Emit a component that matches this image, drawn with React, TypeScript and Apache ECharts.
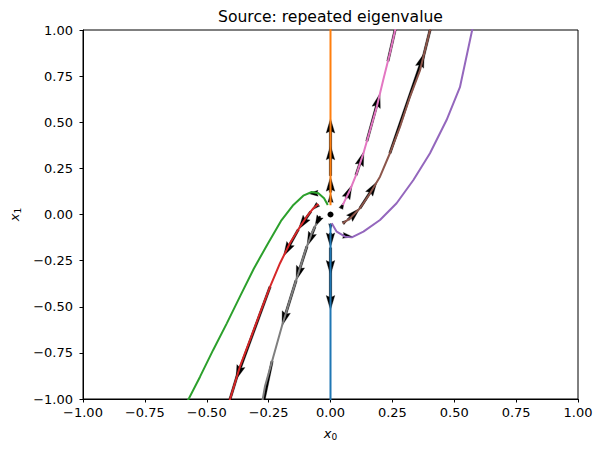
import React, { useEffect, useRef } from 'react';
import * as echarts from 'echarts';

// Trajectories [x0, x1]
const blueCurve: number[][] = [[0, -0.05], [0, -0.3], [0, -0.7], [0, -1.05]];
const orangeCurve: number[][] = [[0, 0.05], [0, 0.3], [0, 0.7], [0, 1.05]];
const greenCurve: number[][] = [
  [-0.011, 0.051], [-0.026, 0.088], [-0.049, 0.115], [-0.076, 0.122], [-0.11, 0.102],
  [-0.15, 0.052], [-0.2, -0.035], [-0.255, -0.162], [-0.31, -0.294], [-0.364, -0.44],
  [-0.419, -0.59], [-0.474, -0.734], [-0.527, -0.879], [-0.577, -1.01],
];
const redCurve: number[][] = [
  [-0.049, 0.057], [-0.069, 0.034], [-0.096, -0.012], [-0.123, -0.066], [-0.164, -0.156],
  [-0.204, -0.264], [-0.244, -0.391], [-0.285, -0.535], [-0.325, -0.68], [-0.366, -0.825],
  [-0.408, -1.01],
];
const purpleCurve: number[][] = [
  [0.005, -0.048], [0.025, -0.093], [0.059, -0.12], [0.086, -0.124], [0.133, -0.093],
  [0.2, -0.03], [0.267, 0.061], [0.335, 0.187], [0.402, 0.332], [0.469, 0.512],
  [0.523, 0.69], [0.574, 1.01],
];
const brownCurve: number[][] = [
  [0.049, -0.048], [0.079, -0.021], [0.119, 0.034], [0.16, 0.115], [0.2, 0.205],
  [0.24, 0.332], [0.281, 0.476], [0.321, 0.638], [0.362, 0.783], [0.404, 1.01],
];
const pinkCurve: number[][] = [
  [0.049, 0.051], [0.079, 0.133], [0.106, 0.223], [0.133, 0.332], [0.16, 0.458],
  [0.187, 0.584], [0.213, 0.729], [0.24, 0.874], [0.263, 1.01],
];
const grayCurve: number[][] = [
  [-0.056, -0.048], [-0.076, -0.102], [-0.103, -0.202], [-0.13, -0.319], [-0.164, -0.463],
  [-0.197, -0.608], [-0.231, -0.771], [-0.265, -0.933], [-0.275, -1.01],
];

// Quiver arrows along each trajectory: [tail, tip] read as x0 (or x1 for the vertical ones)
const orangeArrowsY: number[][] = [[0.065, 0.115], [0.12, 0.205], [0.21, 0.375], [0.3, 0.52]];
const blueArrowsY: number[][] = [[-0.05, -0.084], [-0.1, -0.178], [-0.18, -0.328], [-0.3, -0.518]];
const redArrowsX: number[][] = [[-0.05, -0.075], [-0.08, -0.13], [-0.13, -0.19], [-0.244, -0.382], [-0.37, -0.45]];
const brownArrowsX: number[][] = [[0.05, 0.07], [0.071, 0.119], [0.119, 0.188], [0.24, 0.379], [0.37, 0.45]];
const pinkArrowsX: number[][] = [[0.042, 0.055], [0.063, 0.087], [0.103, 0.135], [0.147, 0.2], [0.232, 0.29]];
const grayArrowsX: number[][] = [[-0.042, -0.063], [-0.063, -0.095], [-0.095, -0.139], [-0.139, -0.196], [-0.236, -0.3]];
const greenArrowsX: number[][] = [[-0.05, -0.09]];
const purpleArrowsX: number[][] = [[0.05, 0.09]];

const fmt = (v: number) => (v < 0 ? '\u2212' + Math.abs(v).toFixed(2) : v.toFixed(2));

const FONT = 'DejaVu Sans';

// y on a traced trajectory at a given x0 (linear between traced points)
function yAt(curve: number[][], x: number): number {
  const asc = curve[curve.length - 1][0] > curve[0][0];
  const pts = asc ? curve : [...curve].reverse();
  let i = 0;
  while (i < pts.length - 2 && x > pts[i + 1][0]) i++;
  const [x0, y0] = pts[i];
  const [x1, y1] = pts[i + 1];
  return y0 + ((x - x0) / (x1 - x0)) * (y1 - y0);
}

function arrowsOnCurve(curve: number[][], pairs: number[][]): number[][] {
  return pairs.map(([a, b]) => {
    const ya = yAt(curve, a);
    const yb = yAt(curve, b);
    return [a, ya, b - a, yb - ya];
  });
}

function arrowsVertical(pairs: number[][]): number[][] {
  return pairs.map(([a, b]) => [0, a, 0, b - a]);
}

export default function App() {
  const ref = useRef<HTMLDivElement>(null);
  useEffect(() => {
    if (!ref.current) return;
    const chart = echarts.init(ref.current, null, { renderer: 'svg' });
    const lineSeries = (data: number[][], color: string) => ({
      type: 'line',
      data,
      showSymbol: false,
      symbol: 'none',
      lineStyle: { color, width: 2 },
      clip: true,
      z: 3,
      silent: true,
    });
    const allArrows = [
      ...arrowsVertical(orangeArrowsY),
      ...arrowsVertical(blueArrowsY),
      ...arrowsOnCurve(redCurve, redArrowsX),
      ...arrowsOnCurve(brownCurve, brownArrowsX),
      ...arrowsOnCurve(pinkCurve, pinkArrowsX),
      ...arrowsOnCurve(grayCurve, grayArrowsX),
      ...arrowsOnCurve(greenCurve, greenArrowsX),
      ...arrowsOnCurve(purpleCurve, purpleArrowsX),
    ];
    const axisCommon = {
      type: 'value',
      min: -1,
      max: 1,
      interval: 0.25,
      axisLine: { show: true, onZero: false, lineStyle: { color: '#000', width: 1 } },
      axisTick: { show: true, inside: false, length: 3.5, lineStyle: { color: '#000', width: 1 } },
      splitLine: { show: false },
      axisLabel: { formatter: fmt, color: '#000', fontFamily: FONT, fontSize: 13 },
    };
    const rich = {
      i: { fontFamily: FONT, fontStyle: 'italic', fontSize: 13, color: '#000' },
      s: { fontFamily: FONT, fontSize: 9, color: '#000', padding: [6, 0, 0, 0] },
    };
    chart.setOption({
      animation: false,
      grid: { left: 83, right: 25, top: 30, bottom: 54, show: true, borderColor: '#000', borderWidth: 1 },
      graphic: [
        {
          type: 'text',
          x: 330.5,
          y: 17,
          style: {
            text: 'Source: repeated eigenvalue',
            fontFamily: FONT,
            fontSize: 15.6,
            fill: '#000',
            textAlign: 'center',
            textVerticalAlign: 'middle',
          },
        },
      ],
      xAxis: {
        ...axisCommon,
        axisLabel: { ...axisCommon.axisLabel, margin: 7 },
        name: '{i|x}{s|0}',
        nameLocation: 'middle',
        nameGap: 27,
        nameTextStyle: { rich },
      },
      yAxis: {
        ...axisCommon,
        axisLabel: { ...axisCommon.axisLabel, margin: 10 },
        name: '{i|x}{s|1}',
        nameLocation: 'middle',
        nameGap: 55,
        nameRotate: 90,
        nameTextStyle: { rich },
      },
      series: [
        {
          type: 'custom',
          clip: true,
          z: 2,
          silent: true,
          data: allArrows,
          renderItem: (params: any, api: any) => {
            const x = api.value(0), y = api.value(1), u = api.value(2), v = api.value(3);
            const p0 = api.coord([x, y]);
            const p1 = api.coord([x + u, y + v]);
            const dx = p1[0] - p0[0], dy = p1[1] - p0[1];
            const L = Math.hypot(dx, dy);
            if (L < 0.5) return null;
            const ex = dx / L, ey = dy / L;
            const nx = -ey, ny = ex;
            let hl = 14.5, hal = 13, hw = 4.3, sw = 1.2;
            if (L < hl) {
              const s = L / hl;
              hl *= s; hal *= s; hw *= s; sw *= s;
            }
            const P = (a: number, b: number) => [p0[0] + ex * a + nx * b, p0[1] + ey * a + ny * b];
            const pts = [
              P(0, sw), P(L - hal, sw), P(L - hl, hw), P(L, 0), P(L - hl, -hw), P(L - hal, -sw), P(0, -sw),
            ];
            return {
              type: 'polygon',
              shape: { points: pts },
              style: { fill: '#000', stroke: '#000', lineWidth: 0.3 },
            };
          },
        },
        lineSeries(blueCurve, '#1f77b4'),
        lineSeries(orangeCurve, '#ff7f0e'),
        lineSeries(greenCurve, '#2ca02c'),
        lineSeries(redCurve, '#d62728'),
        lineSeries(purpleCurve, '#9467bd'),
        lineSeries(brownCurve, '#8c564b'),
        lineSeries(pinkCurve, '#e377c2'),
        lineSeries(grayCurve, '#7f7f7f'),
        {
          type: 'scatter',
          data: [[0, 0]],
          symbolSize: 6,
          itemStyle: { color: '#000', opacity: 1 },
          z: 4,
          silent: true,
        },
      ],
    });
    return () => chart.dispose();
  }, []);
  return <div ref={ref} style={{ width: 603, height: 453, position: 'absolute', left: 0, top: 0 }} />;
}
